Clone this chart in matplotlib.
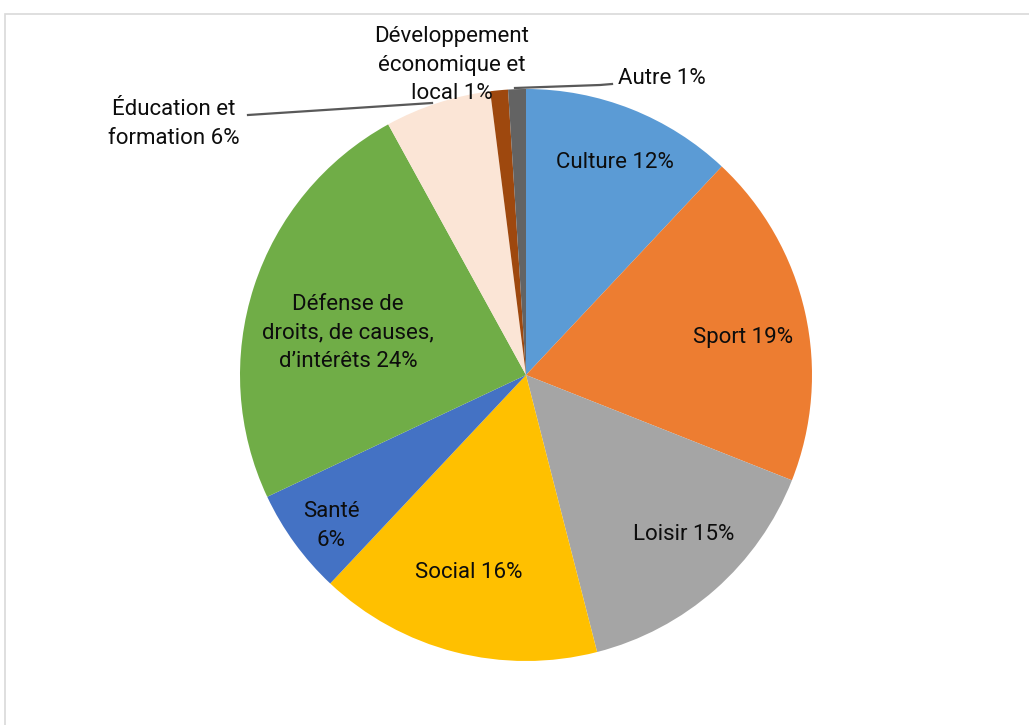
import matplotlib
matplotlib.use("Agg")
import matplotlib.pyplot as plt
from matplotlib.patches import Rectangle

categories = ["Culture", "Sport", "Loisir", "Social", "Santé",
              "Défense de droits, de causes, d’intérêts", "Éducation et formation",
              "Développement économique et local", "Autre"]
values = [12, 19, 15, 16, 6, 24, 6, 1, 1]
label_texts = ["Culture 12%", "Sport 19%", "Loisir 15%", "Social 16%", "Santé\n6%",
               "Défense de\ndroits, de causes,\nd’intérêts 24%", "Éducation et\nformation 6%",
               "Développement\néconomique et\nlocal 1%", "Autre 1%"]
colors = ["#5B9BD5", "#ED7D31", "#A5A5A5", "#FFC000", "#4472C4",
          "#70AD47", "#FBE5D6", "#9E480E", "#636363"]

plt.rcParams['font.family'] = ['Roboto', 'DejaVu Sans']

W, H = 1029, 725
fig = plt.figure(figsize=(W/100, H/100), dpi=100)
cx, cy, R = 526, 375, 286
ax = fig.add_axes([(cx-R)/W, (H-cy-R)/H, 2*R/W, 2*R/H])
ax.pie(values, colors=colors, startangle=90, counterclock=False, radius=1,
       wedgeprops=dict(linewidth=0))
ax.set_xlim(-1, 1); ax.set_ylim(-1, 1)
ax.set_aspect('equal')
ax.axis('off')

def d(px, py):
    return (px-cx)/R, (cy-py)/R

label_pos = [(615, 163), (743, 338), (684, 534), (469, 572), (331, 526),
             (348, 333), (174, 124), (452, 65), (662, 79)]
for txt, (px, py) in zip(label_texts, label_pos):
    x, y = d(px, py)
    ax.text(x, y, txt, ha='center', va='center', fontsize=16, color='#0d0d0d',
            linespacing=1.45, clip_on=False)

# leader lines
for pts in [[(248, 115), (432, 103)], [(515, 88), (600, 85), (612, 84)]]:
    xs, ys = zip(*[d(*p) for p in pts])
    ax.plot(xs, ys, color='#595959', lw=1.6, clip_on=False)

fig.patches.append(Rectangle((5/W, -0.1), 1.2, (H-14)/H + 0.1, transform=fig.transFigure,
                             fill=False, edgecolor='#d9d9d9', lw=1.2))
fig.savefig("out.png", dpi=100)
